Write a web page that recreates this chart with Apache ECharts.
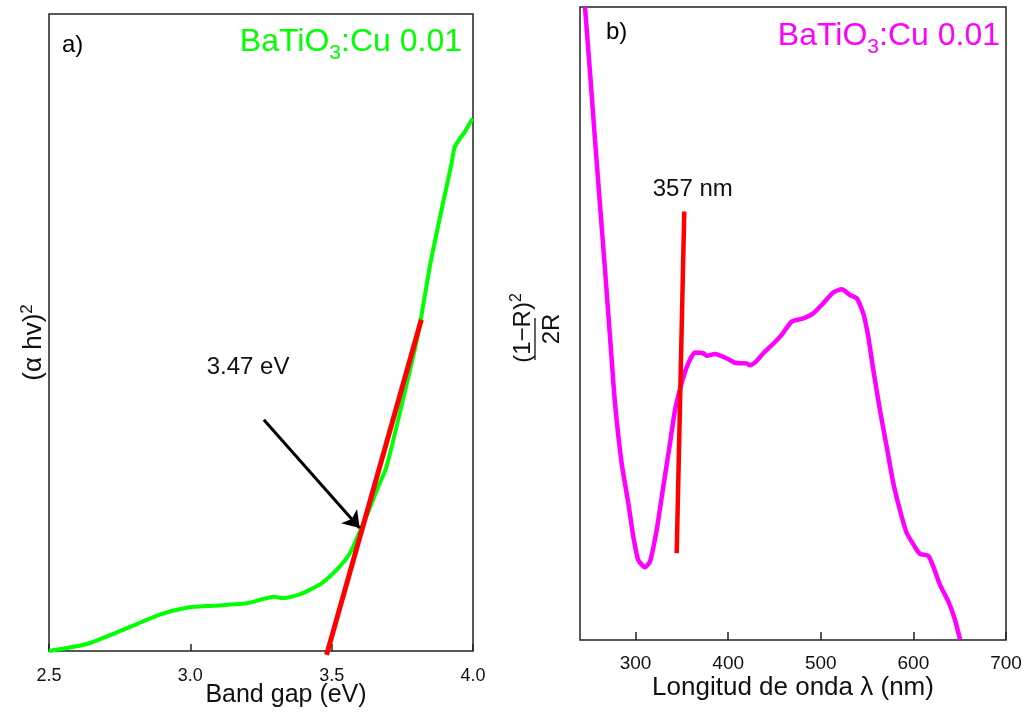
<!DOCTYPE html>
<html>
<head>
<meta charset="utf-8">
<script src="https://cdn.jsdelivr.net/npm/echarts@6/dist/echarts.min.js"></script>
<style>
  html, body { margin: 0; padding: 0; background: #fff; }
  #main { width: 1030px; height: 712px; }
</style>
</head>
<body>
<div id="main"></div>
<script>
// panel a) band gap, (alpha hv)^2 in arbitrary units
var gapX = [2.5, 2.633, 2.761, 2.892, 2.987, 3.079, 3.185, 3.210, 3.298, 3.326, 3.387, 3.422, 3.464, 3.521, 3.564,
    3.599, 3.629, 3.664, 3.694, 3.752, 3.794, 3.817, 3.847, 3.876, 3.906, 3.924, 3.935, 3.953, 3.971, 3.998];
var gapY = [0, 1.1, 3.3, 5.7, 6.8, 7.1, 7.4, 7.6, 8.5, 8.3, 8.9, 9.6, 10.6, 12.9, 15.3,
    18.7, 21.8, 25.7, 28.9, 39.4, 47.3, 52.5, 60.3, 66.6, 72.8, 76.5, 79.1, 80.4, 81.5, 83.6];
var gapFitX = [3.482, 3.817];
var gapFitY = [-0.6, 52.0];
var gapArrow = [[3.260, 36.3], [3.599, 19.3]];
var gapNote = [3.058, 44.6, '3.47 eV'];

// panel b) Kubelka-Munk vs wavelength
var wlX = [245.4, 250.8, 256.2, 267.0, 272.4, 277.8, 285.0, 292.2, 297.6, 303.0, 310.2, 315.6, 322.8,
    329.9, 337.2, 342.6, 349.8, 356.9, 364.2, 373.1, 376.8, 385.8, 398.4, 407.4, 420.0, 423.6, 430.8, 437.9,
    448.7, 457.8, 468.6, 481.1, 491.9, 502.7, 513.5, 522.6, 531.5, 538.8, 545.9, 551.3, 556.7, 563.9, 571.2,
    578.3, 585.5, 592.8, 601.7, 607.1, 616.1, 621.5, 628.7, 637.7, 644.9, 650.3];
var wlY = [100.0, 89.7, 79.0, 58.5, 47.9, 37.4, 27.9, 21.6, 16.3, 12.6, 11.5, 12.4, 17.4,
    24.2, 31.1, 36.3, 40.6, 43.7, 45.4, 45.3, 44.9, 45.2, 44.5, 43.8, 43.7, 43.4, 44.1, 45.3,
    46.8, 48.2, 50.3, 50.8, 51.6, 53.2, 54.9, 55.4, 54.5, 54.0, 51.6, 47.9, 42.7, 36.3, 30.5,
    24.8, 20.5, 16.9, 14.7, 13.6, 13.3, 11.6, 8.7, 6.1, 3.2, 0.1];
var wlFitX = [352.6, 344.4];
var wlFitY = [67.7, 13.7];
var wlTicks = [300, 400, 500, 600, 700];
var wlNote = [318.5, 71.2, '357 nm'];

var font = 'Liberation Sans, Arial, sans-serif';

function pairs(xs, ys) {
    var out = [];
    for (var i = 0; i < xs.length; i++) out.push([xs[i], ys[i]]);
    return out;
}

function sampleTitle(color, pos) {
    return Object.assign({
        text: 'BaTiO{sub|3}:Cu 0.01', padding: 0,
        textStyle: { fontSize: 32, lineHeight: 44, fontWeight: 'normal', color: color, fontFamily: font,
            rich: { sub: { fontSize: 21, lineHeight: 21, color: color, fontFamily: font, verticalAlign: 'bottom' } } }
    }, pos);
}

var chart = echarts.init(document.getElementById('main'));

var option = {
    animation: false,
    textStyle: { fontFamily: font },
    title: [{
        text: 'a)', left: 62, top: 33, padding: 0,
        textStyle: { fontSize: 24, fontWeight: 'normal', color: '#000', fontFamily: font }
    }, sampleTitle('#00ff00', { right: 568, top: 20 }), {
        text: 'b)', left: 606, top: 20, padding: 0,
        textStyle: { fontSize: 24, fontWeight: 'normal', color: '#000', fontFamily: font }
    }, sampleTitle('#ff00ff', { right: 30, top: 14 })],
    grid: [{
        left: 49, top: 14, right: 557, bottom: 61, outerBoundsMode: 'none',
        show: true, borderColor: '#222', borderWidth: 1.5
    }, {
        left: 580, top: 7, right: 24, bottom: 72, outerBoundsMode: 'none',
        show: true, borderColor: '#222', borderWidth: 1.5
    }],
    xAxis: [{
        gridIndex: 0, type: 'value', min: 2.5, max: 4.0, interval: 0.5,
        axisLine: { show: false },
        axisTick: { show: true, inside: true, length: 7, lineStyle: { color: '#222', width: 1.5 } },
        axisLabel: { fontSize: 18, color: '#111', margin: 16, formatter: function (v) { return v.toFixed(1); } },
        splitLine: { show: false },
        name: 'Band gap (eV)', nameLocation: 'middle', nameGap: 32, nameMoveOverlap: false,
        nameTextStyle: { fontSize: 25, color: '#111', padding: [0, 0, 0, 50] }
    }, {
        gridIndex: 1, type: 'value', min: 240, max: 700,
        axisLine: { show: false },
        axisTick: { show: true, inside: true, length: 8, lineStyle: { color: '#222', width: 1.5 }, customValues: wlTicks },
        axisLabel: { fontSize: 19, color: '#111', margin: 14, customValues: wlTicks },
        splitLine: { show: false },
        name: 'Longitud de onda λ (nm)', nameLocation: 'middle', nameGap: 35, nameMoveOverlap: false,
        nameTextStyle: { fontSize: 26, color: '#111' }
    }],
    yAxis: [{
        gridIndex: 0, type: 'value', min: 0, max: 100,
        axisLine: { show: false }, axisTick: { show: false }, axisLabel: { show: false },
        splitLine: { show: false },
        name: '(α hv){sup|2}', nameLocation: 'middle', nameGap: 1, nameRotate: 90,
        nameTextStyle: { fontSize: 26, color: '#111', padding: [0, 20, 0, 0],
            rich: { sup: { fontSize: 17, color: '#111', fontFamily: font, verticalAlign: 'top', padding: [0, 0, 12, 0] } } }
    }, {
        gridIndex: 1, type: 'value', min: 0, max: 100,
        axisLine: { show: false }, axisTick: { show: false }, axisLabel: { show: false },
        splitLine: { show: false }
    }],
    graphic: [{
        type: 'group', x: 537, y: 328, rotation: Math.PI / 2,
        children: [{
            type: 'text', x: 0, y: -14,
            style: { text: '(1−R){s|2}', fontSize: 24, fontFamily: font, fill: '#111', align: 'center', verticalAlign: 'middle',
                rich: { s: { fontSize: 16, fontFamily: font, fill: '#111', verticalAlign: 'top', padding: [0, 0, 12, 0] } } }
        }, {
            type: 'line', shape: { x1: -32, y1: -2, x2: 10, y2: -2 },
            style: { stroke: '#111', lineWidth: 1.3 }
        }, {
            type: 'text', x: -1, y: 15,
            style: { text: '2R', fontSize: 24, fontFamily: font, fill: '#111', align: 'center', verticalAlign: 'middle' }
        }]
    }],
    series: [{
        name: 'a', type: 'line', xAxisIndex: 0, yAxisIndex: 0,
        data: pairs(gapX, gapY), showSymbol: false, smooth: 0.2,
        lineStyle: { color: '#00ff00', width: 4 }
    }, {
        name: 'a fit', type: 'line', xAxisIndex: 0, yAxisIndex: 0, clip: false,
        data: pairs(gapFitX, gapFitY), showSymbol: false,
        lineStyle: { color: '#ff0000', width: 5 },
        markLine: {
            silent: true, symbol: ['none', 'arrow'], symbolSize: 16,
            label: { show: false },
            lineStyle: { color: '#000', width: 3, type: 'solid' },
            itemStyle: { color: '#000' },
            data: [[{ coord: gapArrow[0] }, { coord: gapArrow[1] }]]
        },
        markPoint: {
            silent: true, symbol: 'circle', symbolSize: 0,
            label: { show: true, position: [0, 0], align: 'left', verticalAlign: 'middle',
                fontSize: 24, color: '#111', fontFamily: font, formatter: gapNote[2] },
            data: [{ coord: [gapNote[0], gapNote[1]] }]
        }
    }, {
        name: 'b', type: 'line', xAxisIndex: 1, yAxisIndex: 1,
        data: pairs(wlX, wlY), showSymbol: false, smooth: 0.2,
        lineStyle: { color: '#ff00ff', width: 4.5 }
    }, {
        name: 'b fit', type: 'line', xAxisIndex: 1, yAxisIndex: 1,
        data: pairs(wlFitX, wlFitY), showSymbol: false,
        lineStyle: { color: '#ff0000', width: 4.5 },
        markPoint: {
            silent: true, symbol: 'circle', symbolSize: 0,
            label: { show: true, position: [0, 0], align: 'left', verticalAlign: 'middle',
                fontSize: 24, color: '#111', fontFamily: font, formatter: wlNote[2] },
            data: [{ coord: [wlNote[0], wlNote[1]] }]
        }
    }]
};

chart.setOption(option);
</script>
</body>
</html>
